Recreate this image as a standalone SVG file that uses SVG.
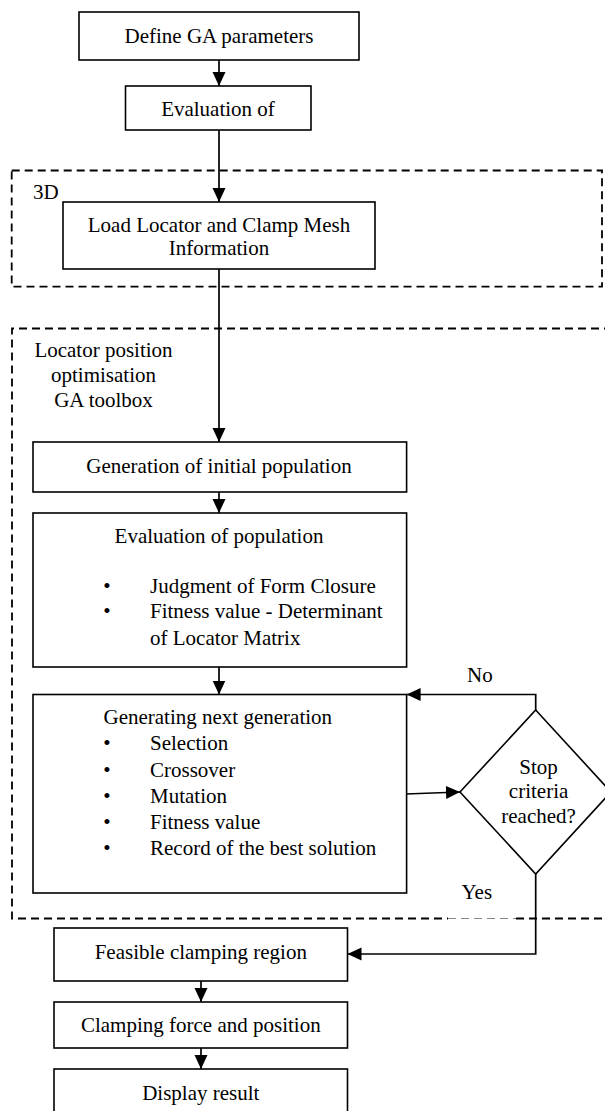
<svg xmlns="http://www.w3.org/2000/svg" width="605" height="1111" viewBox="0 0 605 1111">
<style>
  .box{fill:#fff;stroke:#000;stroke-width:1.6}
  .dash{fill:none;stroke:#000;stroke-width:1.8;stroke-dasharray:8 5}
  .dashlt{fill:none;stroke:#888;stroke-width:1;stroke-dasharray:8 5}
  .t{font-family:"Liberation Serif","Times New Roman",serif;font-size:21px;fill:#000}
  .c{text-anchor:middle}
  .ln{fill:none;stroke:#000;stroke-width:1.7}
</style>
<defs>
  <marker id="ah" markerUnits="userSpaceOnUse" markerWidth="15" markerHeight="14" refX="14" refY="6.5" orient="auto">
    <path d="M0,0 L14,6.5 L0,13 z" fill="#000"/>
  </marker>
</defs>
<rect width="605" height="1111" fill="#fff"/>

<g id="group-3d">
  <rect class="dash" x="11.7" y="170.5" width="590.3" height="116.2"/>
  <text class="t" x="33" y="199">3D</text>
</g>
<g id="group-ga">
  <path class="dash" d="M612,328.5 H12 V918.5 H448"/>
  <path class="dashlt" d="M448,918.5 H516"/>
  <path class="dash" d="M516,918.5 H612"/>
  <text class="t c" x="103.5" y="357">Locator position</text>
  <text class="t c" x="103.5" y="382">optimisation</text>
  <text class="t c" x="103.5" y="407">GA toolbox</text>
</g>

<g id="connectors">
  <path class="ln" d="M219,60 V86" marker-end="url(#ah)"/>
  <path class="ln" d="M219,130 V202" marker-end="url(#ah)"/>
  <path class="ln" d="M219,269 V442" marker-end="url(#ah)"/>
  <path class="ln" d="M219,492 V513" marker-end="url(#ah)"/>
  <path class="ln" d="M219,667 V694.5" marker-end="url(#ah)"/>
  <path class="ln" d="M405.7,794 L460,792" marker-end="url(#ah)"/>
  <path class="ln" d="M535.7,710 V694.5 H406.6" marker-end="url(#ah)"/>
  <path class="ln" d="M535.7,874 V954 H347.5" marker-end="url(#ah)"/>
  <path class="ln" d="M201,981 V1002" marker-end="url(#ah)"/>
  <path class="ln" d="M201,1048 V1069" marker-end="url(#ah)"/>
  <text class="t" x="467" y="682">No</text>
  <text class="t" x="461.5" y="899">Yes</text>
</g>

<g id="n-define">
  <rect class="box" x="79" y="12" width="280" height="48"/>
  <text class="t c" x="219" y="43">Define GA parameters</text>
</g>
<g id="n-eval">
  <rect class="box" x="125.5" y="86" width="185.5" height="44"/>
  <text class="t c" x="218" y="116">Evaluation of</text>
</g>
<g id="n-load">
  <rect class="box" x="63" y="202" width="312" height="67"/>
  <text class="t c" x="219" y="232">Load Locator and Clamp Mesh</text>
  <text class="t c" x="219" y="255">Information</text>
</g>
<g id="n-init">
  <rect class="box" x="33" y="442" width="373.6" height="50"/>
  <text class="t c" x="219" y="473">Generation of initial population</text>
</g>
<g id="n-evalpop">
  <rect class="box" x="33" y="513" width="373.6" height="154"/>
  <text class="t c" x="219" y="543">Evaluation of population</text>
  <text class="t c" x="107" y="593">•</text>
  <text class="t" x="150" y="593">Judgment of Form Closure</text>
  <text class="t c" x="107" y="618">•</text>
  <text class="t" x="150" y="618">Fitness value - Determinant</text>
  <text class="t" x="150" y="645">of Locator Matrix</text>
</g>
<g id="n-nextgen">
  <rect class="box" x="33" y="694.5" width="373.6" height="198.5"/>
  <text class="t" x="103.5" y="724">Generating next generation</text>
  <text class="t c" x="107" y="750">•</text>
  <text class="t" x="150" y="750">Selection</text>
  <text class="t c" x="107" y="776.5">•</text>
  <text class="t" x="150" y="776.5">Crossover</text>
  <text class="t c" x="107" y="802.5">•</text>
  <text class="t" x="150" y="802.5">Mutation</text>
  <text class="t c" x="107" y="828.5">•</text>
  <text class="t" x="150" y="828.5">Fitness value</text>
  <text class="t c" x="107" y="855">•</text>
  <text class="t" x="150" y="855">Record of the best solution</text>
</g>
<g id="n-stop">
  <path class="box" d="M535.7,710 L611,792 L535.7,874 L460,792 Z"/>
  <text class="t c" x="538.6" y="774">Stop</text>
  <text class="t c" x="538.6" y="798">criteria</text>
  <text class="t c" x="538.6" y="822.5">reached?</text>
</g>
<g id="n-feasible">
  <rect class="box" x="54" y="928" width="293.5" height="53"/>
  <text class="t c" x="200.8" y="959">Feasible clamping region</text>
</g>
<g id="n-force">
  <rect class="box" x="54" y="1002" width="293.5" height="46"/>
  <text class="t c" x="200.8" y="1031.5">Clamping force and position</text>
</g>
<g id="n-display">
  <rect class="box" x="54" y="1069" width="293.5" height="60"/>
  <text class="t c" x="200.8" y="1100">Display result</text>
</g>
</svg>
